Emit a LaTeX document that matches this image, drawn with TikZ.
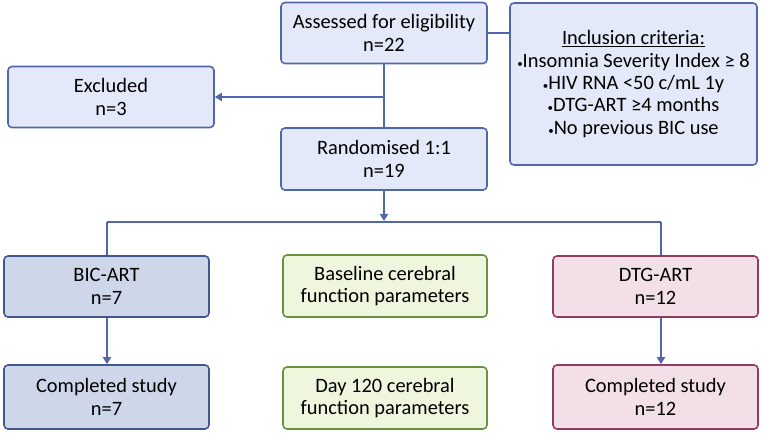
\documentclass[tikz,border=0pt]{standalone}
\usepackage{fontspec}
\setmainfont{Carlito}
\usetikzlibrary{arrows.meta}
\definecolor{lnc}{HTML}{5266AC}
\definecolor{bfill}{HTML}{E3E9F8}
\definecolor{bdraw}{HTML}{5266AC}
\definecolor{dfill}{HTML}{CED7EA}
\definecolor{ddraw}{HTML}{41588F}
\definecolor{gfill}{HTML}{EEF6DD}
\definecolor{gdraw}{HTML}{6B9040}
\definecolor{pfill}{HTML}{F3DFE8}
\definecolor{pdraw}{HTML}{8F3C60}
\tikzset{
  box/.style={rounded corners=4bp, line width=1.6bp, inner sep=0pt, align=center,
    font=\fontsize{20.5}{22.5}\selectfont, text=black},
  bluebox/.style={box, fill=bfill, draw=bdraw, minimum width=206bp, minimum height=61bp},
  darkbox/.style={box, fill=dfill, draw=ddraw, minimum width=205bp},
  greenbox/.style={box, fill=gfill, draw=gdraw, minimum width=204bp},
  pinkbox/.style={box, fill=pfill, draw=pdraw, minimum width=205bp},
  conn/.style={draw=lnc, line width=2bp},
  arr/.style={conn, -{Triangle[length=7bp,width=8bp]}},
}
\newcommand{\bul}{{\fontsize{11}{11}\selectfont\textbullet}}
\begin{document}
\begin{tikzpicture}[x=1bp,y=-1bp]
\useasboundingbox (0,0) rectangle (761,434);
\node[bluebox] (assess) at (384,33) {Assessed for eligibility\\n=22};
\node[bluebox, minimum width=247bp, minimum height=162bp] (incl) at (633.5,84)
  {\underline{Inclusion criteria:}\\
   \bul Insomnia Severity Index ≥ 8\\
   \bul HIV RNA <50 c/mL 1y\\
   \bul DTG-ART ≥4 months\\
   \bul No previous BIC use};
\node[bluebox] (excl) at (111,97) {Excluded\\n=3};
\node[bluebox, minimum height=62bp] (rand) at (384,159) {Randomised 1:1\\n=19};
\node[darkbox, minimum height=61bp] (bic) at (106.5,286.5) {BIC-ART\\n=7};
\node[greenbox, minimum height=62bp] (base) at (385,286) {Baseline cerebral\\function parameters};
\node[pinkbox, minimum height=61bp] (dtg) at (655.5,286.5) {DTG-ART\\n=12};
\node[darkbox, minimum height=64bp] (bicc) at (106.5,397) {Completed study\\n=7};
\node[greenbox, minimum height=62bp] (day) at (385,398) {Day 120 cerebral\\function parameters};
\node[pinkbox, minimum height=64bp] (dtgc) at (655.5,397) {Completed study\\n=12};
\coordinate (j1) at (384,97);
\coordinate (j2) at (384,221);
\coordinate (hl) at (107,222);
\coordinate (hr) at (661,222);
\draw[conn] (assess.east) -- (assess.east -| incl.west);
\draw[conn] (assess.south) -- (rand.north);
\draw[arr] (j1) -- (excl.east);
\draw[arr] (rand.south) -- (j2);
\draw[conn] (hl) -- (hr);
\draw[conn] (hl) -- (hl |- bic.north);
\draw[conn] (hr) -- (hr |- dtg.north);
\draw[arr] (hl |- bic.south) -- (hl |- bicc.north);
\draw[arr] (hr |- dtg.south) -- (hr |- dtgc.north);
\end{tikzpicture}
\end{document}
